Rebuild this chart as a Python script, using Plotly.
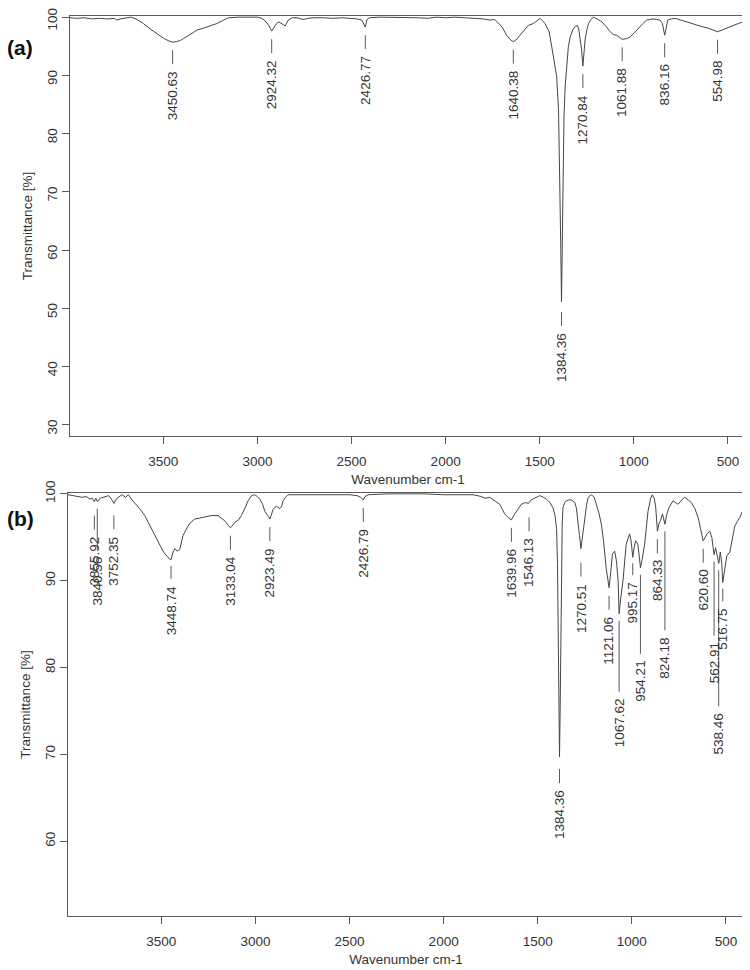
import plotly.graph_objects as go

# ---- spectrum (a) ----
WN_A = [3996, 3960, 3920, 3880, 3840, 3800, 3760, 3746, 3730, 3700, 3670, 3640, 3606, 3570, 3535,
        3500, 3470, 3450, 3430, 3410, 3394, 3370, 3349, 3320, 3288, 3250, 3216, 3185, 3155, 3100,
        3050, 3000, 2977, 2960, 2942, 2924, 2905, 2889, 2876, 2866, 2853, 2836, 2815, 2790, 2757,
        2730, 2700, 2650, 2600, 2550, 2500, 2470, 2445, 2427, 2418, 2405, 2350, 2300, 2250, 2200,
        2150, 2094, 2050, 2000, 1950, 1900, 1850, 1800, 1764, 1740, 1720, 1700, 1676, 1655, 1640,
        1622, 1605, 1580, 1560, 1534, 1515, 1498, 1472, 1450, 1436, 1420, 1410, 1400, 1392, 1388,
        1384.36, 1381, 1378, 1375, 1371, 1365, 1360, 1348, 1339, 1325, 1312, 1300, 1293, 1286, 1278,
        1270.84, 1264, 1259, 1250, 1241, 1228, 1215, 1195, 1170, 1145, 1126, 1108, 1091, 1075, 1062,
        1040, 1020, 998, 976, 955, 932, 915, 898, 880, 861, 848, 840, 836, 832, 826,
        820, 800, 781, 750, 720, 692, 660, 630, 604, 580, 555, 530, 498, 470, 445,
        420, 410, 404]
T_A = [99.9, 99.8, 99.9, 99.7, 99.8, 99.7, 99.8, 99.5, 99.7, 99.9, 100.0, 99.6, 98.9, 98.0, 97.2,
       96.4, 95.9, 95.7, 95.8, 96.0, 96.3, 96.8, 97.3, 97.8, 98.1, 98.5, 98.9, 99.4, 99.9, 100.0,
       100.0, 100.0, 99.8, 99.4, 98.7, 97.6, 98.6, 99.2, 99.0, 98.8, 98.5, 99.5, 99.9, 99.9, 99.6,
       99.8, 99.9, 99.9, 99.8, 99.9, 99.8, 99.7, 99.5, 98.3, 99.6, 99.9, 100.0, 100.0, 99.9, 100.0,
       99.9, 99.8, 100.0, 99.9, 100.0, 99.9, 99.8, 99.7, 99.5, 99.6, 99.0, 98.3, 96.9, 96.1, 95.8,
       96.2, 96.9, 97.9, 98.6, 98.9, 99.3, 99.8, 98.9, 97.5, 94.9, 91.5, 89.8, 84.0, 72.0, 60.0,
       51.1, 58.0, 66.9, 76.0, 83.0, 88.0, 90.5, 94.9, 96.5, 97.8, 98.4, 98.6, 98.0, 96.6, 94.5,
       91.6, 94.0, 96.1, 97.8, 98.9, 99.6, 100.0, 99.7, 99.2, 98.3, 97.5, 97.0, 96.9, 96.5, 96.2,
       96.3, 96.6, 97.3, 98.1, 98.8, 99.5, 99.6, 99.7, 99.6, 99.5, 98.9, 97.6, 96.9, 97.5, 99.0,
       99.5, 99.7, 99.8, 99.5, 99.2, 98.9, 98.5, 98.3, 98.1, 97.8, 97.5, 97.8, 98.3, 98.6, 98.9,
       99.2, 99.6, 100.0]

# ---- spectrum (b) ----
WN_B = [3996, 3970, 3943, 3920, 3900, 3880, 3866, 3856, 3848, 3840, 3825, 3800, 3780, 3765, 3752,
        3740, 3725, 3710, 3690, 3675, 3660, 3642, 3615, 3588, 3560, 3535, 3510, 3491, 3470, 3449,
        3438, 3428, 3415, 3402, 3385, 3370, 3358, 3340, 3323, 3300, 3270, 3235, 3199, 3180, 3163,
        3145, 3133, 3120, 3110, 3090, 3075, 3055, 3039, 3020, 3004, 2990, 2977, 2962, 2950, 2935,
        2923, 2915, 2907, 2889, 2871, 2862, 2853, 2840, 2827, 2780, 2700, 2600, 2500, 2460, 2440,
        2427, 2418, 2400, 2300, 2200, 2100, 2000, 1900, 1844, 1800, 1780, 1755, 1730, 1702, 1690,
        1676, 1658, 1640, 1622, 1605, 1587, 1566, 1549, 1535, 1525, 1505, 1489, 1470, 1454, 1435,
        1419, 1408, 1400, 1395, 1391, 1387, 1384.36, 1381, 1378, 1374, 1370, 1366, 1357, 1348, 1335,
        1321, 1310, 1303, 1295, 1286, 1278, 1270.5, 1262, 1250, 1240, 1232, 1215, 1200, 1189, 1175,
        1162, 1150, 1136, 1121, 1112, 1103, 1091, 1082, 1073, 1067.6, 1060, 1047, 1030, 1012, 1004,
        995, 988, 980, 968, 960, 954, 944, 932, 914, 900, 891, 880, 873, 864, 856,
        848, 837, 830, 824, 815, 803, 781, 765, 755, 735, 719, 700, 684, 665, 648,
        635, 621, 610, 600, 586, 575, 568, 563, 555, 547, 538, 530, 522, 517, 510,
        495, 479, 465, 453, 440, 426, 412, 404]
T_B = [99.9, 99.8, 99.7, 99.6, 99.7, 99.4, 99.5, 99.1, 99.5, 99.1, 99.5, 99.7, 99.8, 99.4, 98.9,
       99.4, 99.6, 99.9, 99.6, 99.9, 99.4, 99.0, 98.3, 97.5, 96.3, 95.2, 94.2, 93.4, 92.8, 92.4,
       93.3, 93.7, 93.4, 93.6, 95.2, 95.9, 96.3, 96.8, 97.1, 97.2, 97.3, 97.5, 97.5, 97.2, 96.9,
       96.4, 96.1, 96.4, 96.7, 97.0, 97.5, 98.4, 99.2, 99.8, 99.9, 99.7, 99.4, 98.8, 98.0, 97.5,
       97.1, 97.6, 98.2, 98.6, 98.3, 98.5, 99.2, 99.6, 99.9, 99.9, 99.9, 99.9, 99.9, 99.8, 99.6,
       99.3, 99.7, 99.9, 100.0, 100.0, 100.0, 99.9, 99.9, 99.9, 99.7, 99.5, 99.6, 99.2, 98.8, 98.3,
       97.7, 97.3, 97.0, 97.7, 98.3, 98.8, 99.0, 98.9, 99.3, 99.4, 99.6, 99.8, 99.6, 99.4, 99.0,
       98.4, 97.5, 96.0, 92.0, 84.0, 76.0, 69.7, 75.0, 84.0, 93.0, 96.5, 98.4, 99.0, 99.2, 99.3,
       99.3, 99.1, 99.0, 98.4, 97.0, 95.2, 93.7, 95.3, 97.2, 98.8, 99.6, 99.9, 99.6, 98.8, 97.8,
       96.5, 94.5, 91.4, 89.2, 91.0, 93.1, 93.4, 92.3, 90.0, 86.2, 87.8, 90.0, 94.2, 95.4, 94.6,
       92.7, 93.8, 94.6, 94.2, 93.0, 91.5, 92.6, 94.2, 98.0, 99.5, 99.9, 99.4, 98.4, 95.7, 96.6,
       96.9, 97.7, 97.2, 96.5, 97.6, 98.4, 99.2, 99.0, 98.8, 99.3, 99.6, 99.3, 99.0, 98.3, 97.3,
       96.0, 94.6, 95.0, 95.4, 95.7, 95.0, 93.8, 93.0, 93.8, 93.1, 92.0, 93.3, 92.0, 89.8, 91.0,
       92.9, 93.3, 94.8, 96.3, 96.8, 97.3, 98.0, 98.4]

# ---- peak labels ----
PEAKS_A = ["3450.63", "2924.32", "2426.77", "1640.38", "1384.36", "1270.84", "1061.88",
           "836.16", "554.98"]
PEAKS_A_T = [95.7, 97.6, 98.3, 95.8, 51.1, 91.6, 96.2, 96.9, 97.5]

PEAKS_B = ["3855.92", "3840.56", "3752.35", "3448.74", "3133.04", "2923.49", "2426.79",
           "1639.96", "1546.13", "1384.36", "1270.51", "1121.06", "1067.62", "995.17",
           "954.21", "864.33", "824.18", "620.60", "562.91", "538.46", "516.75"]
PEAKS_B_T = [99.1, 99.1, 98.9, 92.4, 96.1, 97.1, 99.3, 97.0, 98.9, 69.7, 93.7, 89.2, 86.2,
             92.7, 91.5, 95.7, 96.5, 94.6, 93.0, 92.0, 89.8]

# pixel drop from peak to the top of the label text (layout only)
DROP_A = {"1384.36": 31}
DROP_B = {"3855.92": 35, "3840.56": 55, "3752.35": 33, "3448.74": 26, "1546.13": 35,
          "1384.36": 33, "1270.51": 35, "1067.62": 85, "995.17": 25, "954.21": 93,
          "824.18": 113, "562.91": 88, "538.46": 150, "516.75": 26}

FONT = "Liberation Sans, Arial, sans-serif"
INK = "#333333"
AXC = "#5a5a5a"

# the page puts the figure 8px in from the top-left corner
W, H, OFF = 742, 962, 8


def px(x):
    return (x - OFF) / W


def py(y):
    return 1 - (y - OFF) / H


fig = go.Figure()
fig.add_trace(go.Scatter(x=WN_A, y=T_A, mode="lines", line=dict(color="#454545", width=1),
                         xaxis="x", yaxis="y", hoverinfo="skip"))
fig.add_trace(go.Scatter(x=WN_B, y=T_B, mode="lines", line=dict(color="#454545", width=1),
                         xaxis="x2", yaxis="y2", hoverinfo="skip"))

shapes, annos = [], []


def add_labels(labels, tvals, drops, xr, yr, default=29):
    for lab, t in zip(labels, tvals):
        d = drops.get(lab, default)
        start = 7 if d > 45 else max(6, d - 21)
        shapes.append(dict(type="line", xref=xr, yref=yr, ysizemode="pixel",
                           x0=float(lab), x1=float(lab), yanchor=t, y0=-start, y1=-(d - 7),
                           line=dict(color=AXC, width=1)))
        annos.append(dict(x=float(lab), y=t, xref=xr, yref=yr, text=lab, textangle=-90,
                          showarrow=False, yanchor="top", xanchor="center", yshift=-(d - 2),
                          font=dict(family=FONT, size=13.5, color=INK)))


add_labels(PEAKS_A, PEAKS_A_T, DROP_A, "x", "y")
add_labels(PEAKS_B, PEAKS_B_T, DROP_B, "x2", "y2")

for txt, ypos in (("(a)", 47), ("(b)", 518)):
    annos.append(dict(x=px(20), y=py(ypos), xref="paper", yref="paper", text="<b>%s</b>" % txt,
                      showarrow=False, xanchor="center", yanchor="middle",
                      font=dict(family=FONT, size=21, color="#111111")))

axis_common = dict(showline=True, mirror=True, linecolor=AXC, linewidth=1, ticks="outside",
                   ticklen=7, tickcolor=AXC, showgrid=False, zeroline=False, automargin=False,
                   ticklabeloverflow="allow",
                   tickfont=dict(family=FONT, size=13.5, color=INK))
xcommon = dict(axis_common, range=[3996, 404], tickvals=[3500, 3000, 2500, 2000, 1500, 1000, 500],
               ticklabelstandoff=6,
               title=dict(text="Wavenumber cm-1", standoff=6,
                          font=dict(family=FONT, size=13.5, color=INK)))
ycommon = dict(axis_common, tickangle=-90,
               title=dict(text="Transmittance [%]", standoff=8,
                          font=dict(family=FONT, size=13.5, color=INK)))

fig.update_layout(
    width=W, height=H,
    margin=dict(l=0, r=0, t=0, b=0),
    paper_bgcolor="white", plot_bgcolor="white",
    showlegend=False,
    xaxis=dict(xcommon, domain=[px(70), px(746)], anchor="y"),
    # labels nudged down a little so the top "100" stays inside the page
    yaxis=dict(ycommon, domain=[py(436), py(16)], range=[28.1, 100.2], ticklabelshift=4,
               tickvals=[30, 40, 50, 60, 70, 80, 90, 100], anchor="x"),
    xaxis2=dict(xcommon, domain=[px(68), px(744)], anchor="y2"),
    yaxis2=dict(ycommon, domain=[py(916), py(493)], range=[51.4, 100.1],
                tickvals=[60, 70, 80, 90, 100], anchor="x2"),
    shapes=shapes,
    annotations=annos,
)

fig.write_html("out.html")
